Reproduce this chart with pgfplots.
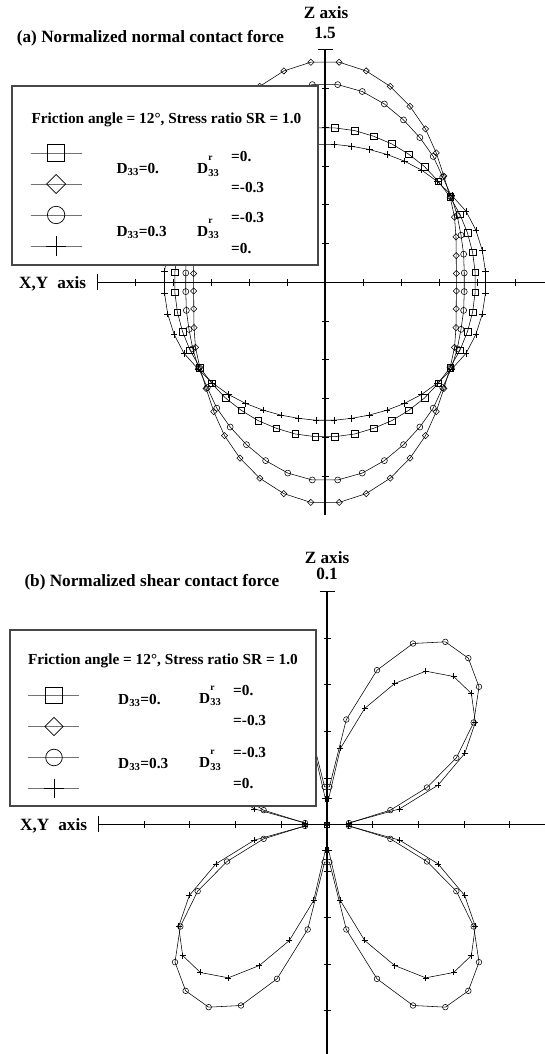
\documentclass[border=0pt]{standalone}
\usepackage{pgfplots}
\pgfplotsset{compat=1.18}
\usepackage{fontspec}
\setmainfont{Liberation Serif}

\newcommand\ttl{\fontsize{17.2}{20}\selectfont\bfseries}
\newcommand\lgd{\fontsize{15.3}{18}\selectfont\bfseries}
% D with a high r above its subscript 33
\newcommand\Dr{D\rlap{\raisebox{13pt}{\fontsize{9.5}{9}\selectfont r}}\raisebox{-2.5pt}{\fontsize{10.5}{10}\selectfont 33}}

\tikzset{keyframe/.style={fill=white, draw=black!72, line width=1.2pt}}

\pgfplotsset{
  polar frame/.style={
    axis lines*=middle,
    axis line style={-, line width=1.1pt},
    tick align=center,
    major tick length=7pt,
    every tick/.style={black, line width=0.9pt},
    scaled ticks=false,
    xticklabel={\mbox{}}, yticklabel={\mbox{}},
    clip=false,
    clip mode=individual,
    legend cell align=left,
    legend image code/.code={%
      \draw[mark repeat=2, mark phase=2, ##1]
        plot coordinates {(0pt,0pt) (25.5pt,0pt) (51pt,0pt)};},
  },
  curve/.style={black, line width=0.55pt, mark options={solid, black, line width=0.55pt}, forget plot},
  key/.style={black!55, line width=0.8pt, mark options={solid, black, line width=0.7pt}},
  keybox/.style={at={(#1)}, anchor=north west, draw=none, fill=none,
    inner sep=0pt, outer sep=0pt, row sep=0pt, column sep=0pt,
    nodes={inner sep=0pt, outer sep=0pt, minimum height=31pt, text depth=0pt}},
}

\begin{document}
\begin{tikzpicture}[x=1pt, y=1pt]
\useasboundingbox (0,0) rectangle (545,1054);

% ---------------- (a) normal contact force ----------------
\begin{axis}[polar frame,
  at={(97pt,539.2pt)}, anchor=south west,
  x=152pt, y=155pt,
  xmin=-1.5, xmax=1.5, ymin=-1.5, ymax=1.5,
  xtick={-1.25,-1,-0.75,-0.5,-0.25,0.25,0.5,0.75,1,1.25},
  ytick={-1.25,-1,-0.75,-0.5,-0.25,0.25,0.5,0.75,1,1.25},
  extra x ticks={-1.5}, extra x tick style={major tick length=16pt},
  extra y ticks={1.5}, extra y tick style={major tick length=15pt},
  legend style={keybox={-0.14649,0.81140}},
]
% D33 = 0, D33r = -0.3
\addplot[curve, mark=square, mark size=2.2pt, mark options={solid, black, line width=0.55pt, rotate=45}] coordinates {
(0.0931,1.4200) (0.2712,1.3633) (0.4291,1.2641) (0.5595,1.1346) (0.6612,0.9895) (0.7318,0.8345) (0.7819,0.6857) (0.8232,0.5500) (0.8521,0.4202) (0.8617,0.2925) (0.8631,0.1717) (0.8642,0.0566)
(0.8642,-0.0566) (0.8631,-0.1717) (0.8617,-0.2925) (0.8521,-0.4202) (0.8232,-0.5500) (0.7819,-0.6857) (0.7318,-0.8345) (0.6612,-0.9895) (0.5595,-1.1346) (0.4291,-1.2641) (0.2712,-1.3633) (0.0931,-1.4200)
(-0.0931,-1.4200) (-0.2712,-1.3633) (-0.4291,-1.2641) (-0.5595,-1.1346) (-0.6612,-0.9895) (-0.7318,-0.8345) (-0.7819,-0.6857) (-0.8232,-0.5500) (-0.8521,-0.4202) (-0.8617,-0.2925) (-0.8631,-0.1717) (-0.8642,-0.0566)
(-0.8642,0.0566) (-0.8631,0.1717) (-0.8617,0.2925) (-0.8521,0.4202) (-0.8232,0.5500) (-0.7819,0.6857) (-0.7318,0.8345) (-0.6612,0.9895) (-0.5595,1.1346) (-0.4291,1.2641) (-0.2712,1.3633) (-0.0931,1.4200)
} -- cycle;
% D33 = 0.3, D33r = -0.3
\addplot[curve, mark=o, mark size=3pt] coordinates {
(0.0836,1.2753) (0.2449,1.2309) (0.3905,1.1505) (0.5166,1.0476) (0.6239,0.9338) (0.7120,0.8119) (0.7744,0.6791) (0.8315,0.5556) (0.8700,0.4290) (0.8948,0.3037) (0.9121,0.1814) (0.9161,0.0600)
(0.9161,-0.0600) (0.9121,-0.1814) (0.8948,-0.3037) (0.8700,-0.4290) (0.8315,-0.5556) (0.7744,-0.6791) (0.7120,-0.8119) (0.6239,-0.9338) (0.5166,-1.0476) (0.3905,-1.1505) (0.2449,-1.2309) (0.0836,-1.2753)
(-0.0836,-1.2753) (-0.2449,-1.2309) (-0.3905,-1.1505) (-0.5166,-1.0476) (-0.6239,-0.9338) (-0.7120,-0.8119) (-0.7744,-0.6791) (-0.8315,-0.5556) (-0.8700,-0.4290) (-0.8948,-0.3037) (-0.9121,-0.1814) (-0.9161,-0.0600)
(-0.9161,0.0600) (-0.9121,0.1814) (-0.8948,0.3037) (-0.8700,0.4290) (-0.8315,0.5556) (-0.7744,0.6791) (-0.7120,0.8119) (-0.6239,0.9338) (-0.5166,1.0476) (-0.3905,1.1505) (-0.2449,1.2309) (-0.0836,1.2753)
} -- cycle;
% D33 = 0, D33r = 0
\addplot[curve, mark=square, mark size=3.3pt] coordinates {
(0.0653,0.9959) (0.1947,0.9788) (0.3198,0.9422) (0.4401,0.8924) (0.5517,0.8257) (0.6547,0.7465) (0.7443,0.6527) (0.8232,0.5500) (0.8879,0.4379) (0.9374,0.3182) (0.9710,0.1931) (0.9879,0.0647)
(0.9879,-0.0647) (0.9710,-0.1931) (0.9374,-0.3182) (0.8879,-0.4379) (0.8232,-0.5500) (0.7443,-0.6527) (0.6547,-0.7465) (0.5517,-0.8257) (0.4401,-0.8924) (0.3198,-0.9422) (0.1947,-0.9788) (0.0653,-0.9959)
(-0.0653,-0.9959) (-0.1947,-0.9788) (-0.3198,-0.9422) (-0.4401,-0.8924) (-0.5517,-0.8257) (-0.6547,-0.7465) (-0.7443,-0.6527) (-0.8232,-0.5500) (-0.8879,-0.4379) (-0.9374,-0.3182) (-0.9710,-0.1931) (-0.9879,-0.0647)
(-0.9879,0.0647) (-0.9710,0.1931) (-0.9374,0.3182) (-0.8879,0.4379) (-0.8232,0.5500) (-0.7443,0.6527) (-0.6547,0.7465) (-0.5517,0.8257) (-0.4401,0.8924) (-0.3198,0.9422) (-0.1947,0.9788) (-0.0653,0.9959)
} -- cycle;
% D33 = 0.3, D33r = 0
\addplot[curve, mark=+, mark size=3.3pt] coordinates {
(0.0583,0.8901) (0.1746,0.8778) (0.2909,0.8569) (0.4069,0.8251) (0.5223,0.7816) (0.6349,0.7240) (0.7405,0.6494) (0.8357,0.5584) (0.9283,0.4578) (0.9923,0.3368) (1.0347,0.2058) (1.0558,0.0692)
(1.0558,-0.0692) (1.0347,-0.2058) (0.9923,-0.3368) (0.9283,-0.4578) (0.8357,-0.5584) (0.7405,-0.6494) (0.6349,-0.7240) (0.5223,-0.7816) (0.4069,-0.8251) (0.2909,-0.8569) (0.1746,-0.8778) (0.0583,-0.8901)
(-0.0583,-0.8901) (-0.1746,-0.8778) (-0.2909,-0.8569) (-0.4069,-0.8251) (-0.5223,-0.7816) (-0.6349,-0.7240) (-0.7405,-0.6494) (-0.8357,-0.5584) (-0.9283,-0.4578) (-0.9923,-0.3368) (-1.0347,-0.2058) (-1.0558,-0.0692)
(-1.0558,0.0692) (-1.0347,0.2058) (-0.9923,0.3368) (-0.9283,0.4578) (-0.8357,0.5584) (-0.7405,0.6494) (-0.6349,0.7240) (-0.5223,0.7816) (-0.4069,0.8251) (-0.2909,0.8569) (-0.1746,0.8778) (-0.0583,0.8901)
} -- cycle;
% key panel
\draw[keyframe] (axis cs:-2.0592,0.1116) rectangle (axis cs:-0.0461,1.2665);
\addlegendimage{key, mark=square, mark size=8.5pt}
\addlegendentry{\mbox{}}
\addlegendimage{key, mark=square, mark size=6.7pt, mark options={solid, black, line width=0.7pt, rotate=45}}
\addlegendentry{\mbox{}}
\addlegendimage{key, mark=o, mark size=8.7pt}
\addlegendentry{\mbox{}}
\addlegendimage{key, mark=+, mark size=10pt}
\addlegendentry{\mbox{}}
\end{axis}

% ---------------- (b) shear contact force ----------------
\begin{axis}[polar frame,
  at={(98.5pt,-3.2pt)}, anchor=south west,
  x=2285pt, y=2327pt,
  xmin=-0.1, xmax=0.1, ymin=-0.1, ymax=0.1,
  xtick={-0.08,-0.06,-0.04,-0.02,0.02,0.04,0.06,0.08},
  ytick={-0.08,-0.06,-0.04,-0.02,0.02,0.04,0.06,0.08},
  extra x ticks={-0.1}, extra x tick style={major tick length=16pt},
  extra y ticks={0.1}, extra y tick style={major tick length=15pt},
  legend style={keybox={-0.15405,0.81048}},
]
% D33 = 0 (both cases): no shear component
\addplot[curve, mark=square, mark size=2.4pt] coordinates {(0,0)};
\addplot[curve, mark=square, mark size=1.8pt, mark options={solid, black, line width=0.55pt, rotate=45}] coordinates {(0,0)};
% D33 = 0.3, D33r = -0.3
\addplot[curve, mark=o, mark size=2.8pt] coordinates {
(0.00106,0.01617) (0.00846,0.04512) (0.02188,0.06632) (0.03764,0.07778) (0.05179,0.07850) (0.06185,0.07148) (0.06652,0.05916) (0.06419,0.04383) (0.05660,0.02865) (0.04376,0.01590) (0.02772,0.00616) (0.00963,0.00063)
(0.00963,-0.00063) (0.02772,-0.00616) (0.04376,-0.01590) (0.05660,-0.02865) (0.06419,-0.04383) (0.06652,-0.05916) (0.06185,-0.07148) (0.05179,-0.07850) (0.03764,-0.07778) (0.02188,-0.06632) (0.00846,-0.04512) (0.00106,-0.01617)
(-0.00106,-0.01617) (-0.00846,-0.04512) (-0.02188,-0.06632) (-0.03764,-0.07778) (-0.05179,-0.07850) (-0.06185,-0.07148) (-0.06652,-0.05916) (-0.06419,-0.04383) (-0.05660,-0.02865) (-0.04376,-0.01590) (-0.02772,-0.00616) (-0.00963,-0.00063)
(-0.00963,0.00063) (-0.02772,0.00616) (-0.04376,0.01590) (-0.05660,0.02865) (-0.06419,0.04383) (-0.06652,0.05916) (-0.06185,0.07148) (-0.05179,0.07850) (-0.03764,0.07778) (-0.02188,0.06632) (-0.00846,0.04512) (-0.00106,0.01617)
} -- cycle;
% D33 = 0.3, D33r = 0
\addplot[curve, mark=+, mark size=3pt] coordinates {
(0.00073,0.01115) (0.00584,0.03266) (0.01648,0.04985) (0.02961,0.06060) (0.04318,0.06589) (0.05543,0.06360) (0.06317,0.05630) (0.06492,0.04383) (0.06025,0.03051) (0.04858,0.01690) (0.03180,0.00673) (0.00950,0.00062)
(0.00950,-0.00062) (0.03180,-0.00673) (0.04858,-0.01690) (0.06025,-0.03051) (0.06492,-0.04383) (0.06317,-0.05630) (0.05543,-0.06360) (0.04318,-0.06589) (0.02961,-0.06060) (0.01648,-0.04985) (0.00584,-0.03266) (0.00073,-0.01115)
(-0.00073,-0.01115) (-0.00584,-0.03266) (-0.01648,-0.04985) (-0.02961,-0.06060) (-0.04318,-0.06589) (-0.05543,-0.06360) (-0.06317,-0.05630) (-0.06492,-0.04383) (-0.06025,-0.03051) (-0.04858,-0.01690) (-0.03180,-0.00673) (-0.00950,-0.00062)
(-0.00950,0.00062) (-0.03180,0.00673) (-0.04858,0.01690) (-0.06025,0.03051) (-0.06492,0.04383) (-0.06317,0.05630) (-0.05543,0.06360) (-0.04318,0.06589) (-0.02961,0.06060) (-0.01648,0.04985) (-0.00584,0.03266) (-0.00073,0.01115)
} -- cycle;
% key panel
\draw[keyframe] (axis cs:-0.13873,0.00795) rectangle (axis cs:-0.00481,0.08358);
\addlegendimage{key, mark=square, mark size=8.3pt}
\addlegendentry{\mbox{}}
\addlegendimage{key, mark=square, mark size=6.4pt, mark options={solid, black, line width=0.7pt, rotate=45}}
\addlegendentry{\mbox{}}
\addlegendimage{key, mark=o, mark size=8.3pt}
\addlegendentry{\mbox{}}
\addlegendimage{key, mark=+, mark size=9.8pt}
\addlegendentry{\mbox{}}
\end{axis}

% ---------------- titles, axis names and key texts ----------------
\tikzset{lbl/.style={inner sep=0pt, anchor=base west}, cbl/.style={inner sep=0pt, anchor=base}}

\node[lbl, font=\ttl] at (16.7,1011.5) {(a) Normalized normal contact force};
\node[cbl, font=\ttl] at (326,1035) {Z axis};
\node[cbl, font=\ttl] at (325,1015) {1.5};
\node[lbl, font=\ttl] at (19,765.5) {X,Y\hspace{9pt}axis};
\node[lbl, font=\lgd] at (31.3,930.6) {Friction angle = 12°, Stress ratio SR = 1.0};
\node[lbl, font=\lgd] at (116.4,880.2) {D\textsubscript{33}=0.};
\node[lbl, font=\lgd] at (197,880.2) {\Dr};
\node[lbl, font=\lgd] at (231,892.4) {=0.};
\node[lbl, font=\lgd] at (231,861) {=-0.3};
\node[lbl, font=\lgd] at (116.4,817.6) {D\textsubscript{33}=0.3};
\node[lbl, font=\lgd] at (197,817.6) {\Dr};
\node[lbl, font=\lgd] at (231,831.5) {=-0.3};
\node[lbl, font=\lgd] at (231,800.3) {=0.};

\node[lbl, font=\ttl] at (24.3,467.5) {(b) Normalized shear contact force};
\node[cbl, font=\ttl] at (327,490.6) {Z axis};
\node[cbl, font=\ttl] at (327,474) {0.1};
\node[lbl, font=\ttl] at (20,223.5) {X,Y\hspace{9pt}axis};
\node[lbl, font=\lgd] at (27.8,389.8) {Friction angle = 12°, Stress ratio SR = 1.0};
\node[lbl, font=\lgd] at (118,349.8) {D\textsubscript{33}=0.};
\node[lbl, font=\lgd] at (199,350.5) {\Dr};
\node[lbl, font=\lgd] at (233,358.5) {=0.};
\node[lbl, font=\lgd] at (233,328.2) {=-0.3};
\node[lbl, font=\lgd] at (118,285.5) {D\textsubscript{33}=0.3};
\node[lbl, font=\lgd] at (199,286) {\Dr};
\node[lbl, font=\lgd] at (233,296.6) {=-0.3};
\node[lbl, font=\lgd] at (233,265.7) {=0.};
\end{tikzpicture}
\end{document}
